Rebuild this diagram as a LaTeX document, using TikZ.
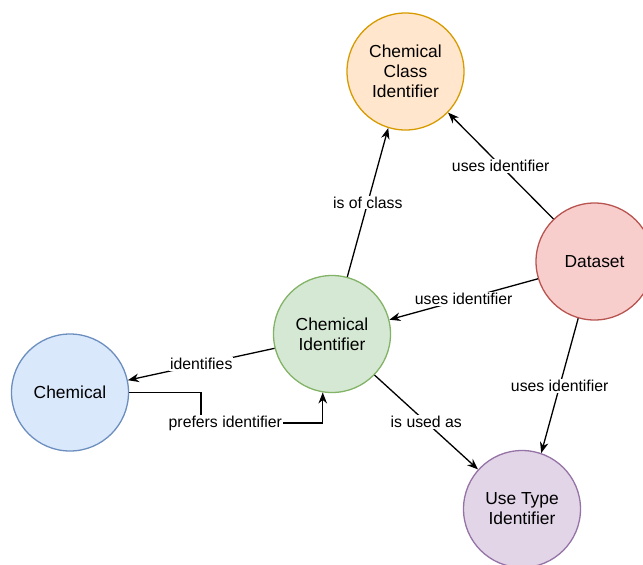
\documentclass[tikz,border=0pt]{standalone}
\usepackage{fontspec}
\setmainfont{Liberation Sans}
\usetikzlibrary{arrows.meta}

\definecolor{orangeFill}{HTML}{FFE6CC}
\definecolor{orangeLine}{HTML}{D79B00}
\definecolor{redFill}{HTML}{F8CECC}
\definecolor{redLine}{HTML}{B85450}
\definecolor{greenFill}{HTML}{D5E8D4}
\definecolor{greenLine}{HTML}{82B366}
\definecolor{blueFill}{HTML}{DAE8FC}
\definecolor{blueLine}{HTML}{6C8EBF}
\definecolor{purpleFill}{HTML}{E1D5E7}
\definecolor{purpleLine}{HTML}{9673A6}

\tikzset{
  entity/.style={circle, minimum size=117pt, inner sep=0pt, line width=1.3pt,
    align=center, font=\fontsize{17.4}{20}\selectfont},
  rel/.style={line width=1.3pt, draw=black,
    -{Stealth[length=11pt,width=8.5pt,inset=3.5pt]}},
  lbl/.style={fill=white, inner sep=1pt, text=black,
    font=\fontsize{15.8}{18}\selectfont}
}

\begin{document}
\begin{tikzpicture}[x=1pt,y=-1pt]
\useasboundingbox (0,0) rectangle (643,565);

% entities
\node[entity, fill=orangeFill, draw=orangeLine] (cc) at (405.5,71.5) {Chemical\\Class\\Identifier};
\node[entity, fill=redFill, draw=redLine] (ds) at (594.5,261.5) {Dataset};
\node[entity, fill=greenFill, draw=greenLine] (ci) at (332,334) {Chemical\\Identifier};
\node[entity, fill=blueFill, draw=blueLine] (chem) at (70,392.5) {Chemical};
\node[entity, fill=purpleFill, draw=purpleLine] (ut) at (522,509) {Use Type\\Identifier};

% relations
\draw[rel] (ci.75) -- node[lbl] {is of class} (cc.253);
\draw[rel] (ds.134) -- node[lbl] {uses identifier} (cc.316);
\draw[rel] (ds.197) -- node[lbl] {uses identifier} (ci.14);
\draw[rel] (ds.254) -- node[lbl] {uses identifier} (ut.71);
\draw[rel] (ci.316) -- node[lbl] {is used as} (ut.138);
\draw[rel] (ci.194) -- node[lbl] {identifies} (chem.12);

\coordinate (bend) at (201,423);
\draw[rel] (chem.east) -- (bend |- chem.east) -- (bend)
  -- node[lbl, pos=0.2] {prefers identifier} (bend -| ci.261) -- (ci.261);
\end{tikzpicture}
\end{document}
